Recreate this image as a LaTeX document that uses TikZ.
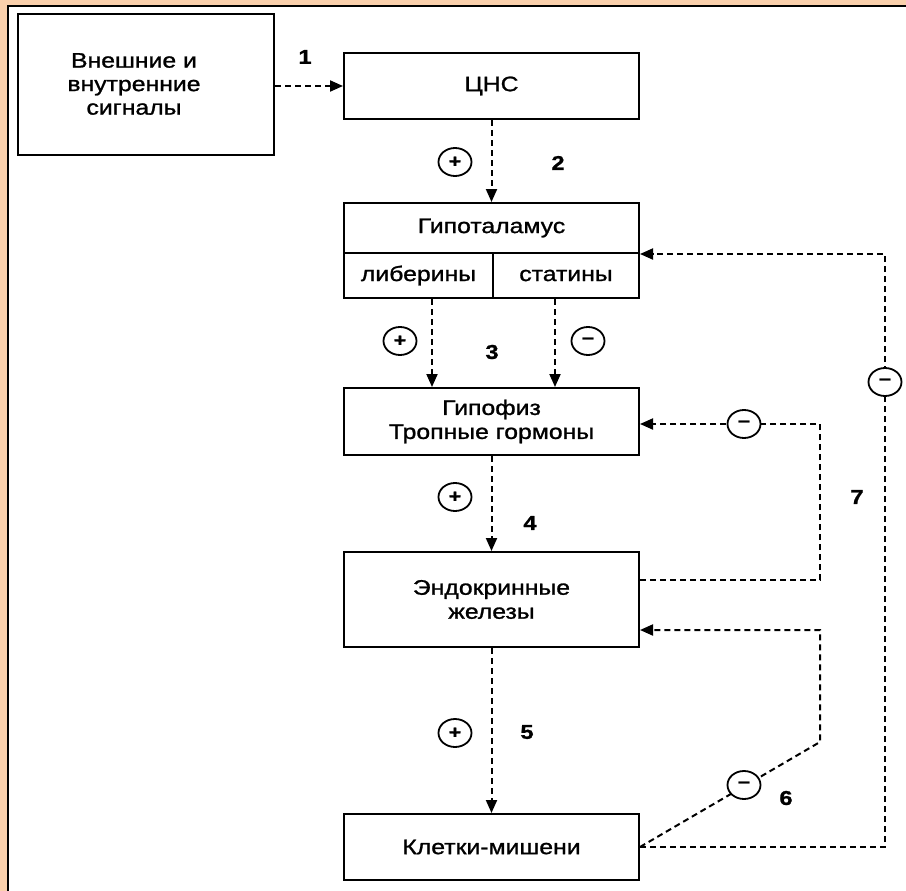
\documentclass[tikz,border=0pt]{standalone}
\usepackage{fontspec}
\setmainfont{Liberation Sans}[FakeStretch=1.18,FakeBold=1.2]
\usetikzlibrary{arrows.meta,shapes.geometric,calc}
\definecolor{peach}{RGB}{250,208,172}
\begin{document}
\begin{tikzpicture}[x=1pt,y=-1pt,
  box/.style={draw, line width=2pt, minimum width=295pt, inner sep=0pt, align=center,
    font=\fontsize{21}{24}\selectfont},
  fb/.style={draw, line width=2pt, dash pattern=on 6pt off 4pt},
  arr/.style={fb, -{Triangle[length=13pt,width=11pt]}},
  sgn/.style={ellipse, draw, fill=white, line width=1.8pt, minimum width=33pt, minimum height=28pt,
    inner sep=0pt, font=\fontsize{18}{18}\selectfont\bfseries},
  num/.style={font=\fontsize{20}{20}\selectfont\bfseries, inner sep=0pt}]
\useasboundingbox (0,0) rectangle (906,891);
\fill[white] (0,0) rectangle (906,891);
\fill[peach] (0,0) rectangle (906,6);
\fill[peach] (0,0) rectangle (8,891);
\draw[line width=2pt] (8,891) -- (8,6) -- (906,6);

% boxes
\node[box, minimum width=256pt, minimum height=141pt] (sig) at (146,84.5) {};
\node[align=center, inner sep=0pt, font=\fontsize{21}{23.5}\selectfont] (sigtxt) at (134,84) {Внешние и\\внутренние\\сигналы};
\node[box, minimum height=66pt] (cns) at (491.5,86) {ЦНС};
\node[box, minimum height=50pt] (hyptop) at (491.5,228) {Гипоталамус};
\node[box, minimum width=149pt, minimum height=45pt] (lib) at (418.5,275.5) {либерины};
\node[box, minimum width=146pt, minimum height=45pt] (stat) at (566,275.5) {статины};
\node[box, minimum height=67pt] (pit) at (491.5,421.5) {Гипофиз\\Тропные гормоны};
\node[box, minimum height=95pt] (endo) at (491.5,599.5) {Эндокринные\\железы};
\node[box, minimum height=66pt] (tgt) at (491.5,847) {Клетки-мишени};

% helper coordinates
\coordinate (a3l) at (432,0);
\coordinate (a3r) at (555,0);
\coordinate (fx1) at (820,0);
\coordinate (fx2) at (885,0);
\coordinate (ey1) at (0,580);
\coordinate (ey2) at (0,630);
\coordinate (py) at (0,424);
\coordinate (dc) at (820,742);

% main arrows
\draw[arr] (sig.east |- cns.west) -- (cns.west);
\draw[arr] (cns.south) -- (cns.south |- hyptop.north);
\draw[arr] (lib.south -| a3l) -- (pit.north -| a3l);
\draw[arr] (stat.south -| a3r) -- (pit.north -| a3r);
\draw[arr] (pit.south) -- (endo.north);
\draw[arr] (endo.south) -- (tgt.north);

% feedback loops
\draw[arr] (tgt.east) -- (tgt.east -| fx2) -- (fx2 |- hyptop.south east) -- (hyptop.south east);
\draw[arr] (endo.east |- ey1) -- (fx1 |- ey1) -- (fx1 |- py) -- (pit.east |- py);
\draw[arr] (tgt.east) -- (dc) -- (fx1 |- ey2) -- (endo.east |- ey2);

% signs
\node[sgn] (s2) at (455,162) {+};
\node[sgn] (s3p) at (400,341) {+};
\node[sgn] (s3m) at (588,341) {−};
\node[sgn] (s4) at (455,497) {+};
\node[sgn] (s5) at (455,733) {+};
\node[sgn] (sr) at (885,382) {−};
\node[sgn] (sp) at (744,424) {−};
\node[sgn] (sd) at (744,785) {−};

% numbers
\node[num] (n1) at (305,57) {1};
\node[num] (n2) at (558,163) {2};
\node[num] (n3) at (492,352) {3};
\node[num] (n4) at (530,523) {4};
\node[num] (n5) at (527,732) {5};
\node[num] (n6) at (786,798) {6};
\node[num] (n7) at (857,497) {7};
\end{tikzpicture}
\end{document}
